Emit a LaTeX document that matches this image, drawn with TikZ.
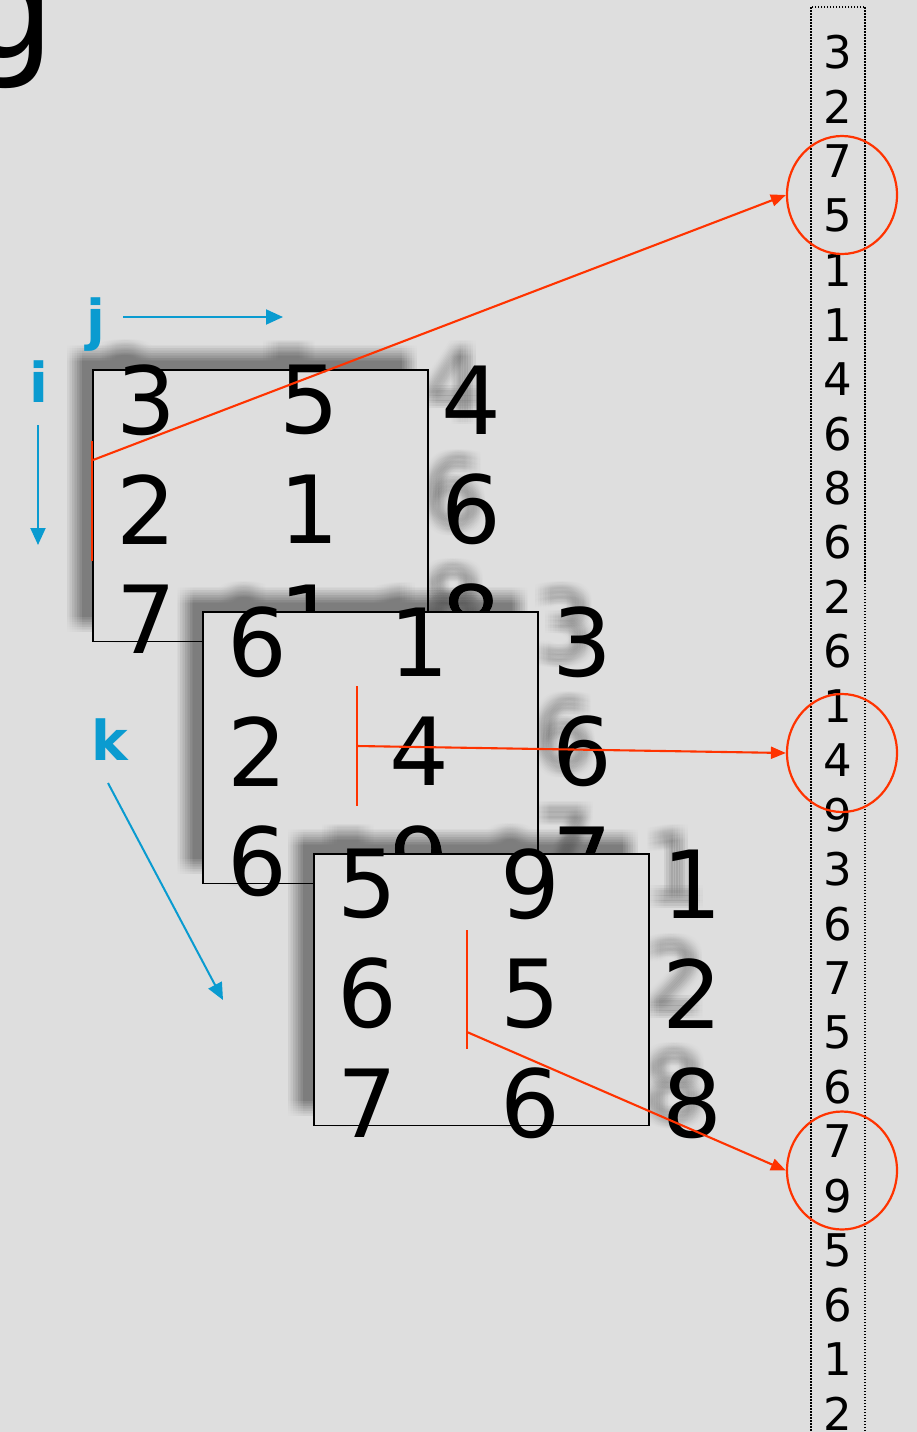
\documentclass[tikz,border=0pt]{standalone}
\usepackage{fontspec}
\setmainfont{DejaVu Sans}
\usetikzlibrary{arrows.meta,shapes.geometric}
\definecolor{bg}{HTML}{DEDEDE}
\definecolor{redc}{HTML}{FF3300}
\definecolor{bluec}{HTML}{0A9BD0}
\tikzset{
  big/.style={font=\fontsize{94}{94}\selectfont, inner sep=0pt, outer sep=0pt, anchor=center},
  listnum/.style={font=\fontsize{45}{45}\selectfont, inner sep=0pt, anchor=center},
  boxst/.style={draw=black, line width=1.9, fill=bg, minimum width=335, minimum height=271.5, inner sep=0pt, outer sep=0pt},
  redmark/.style={draw=redc, line width=2.2},
  redarrow/.style={draw=redc, line width=2.1, -{Triangle[length=15,width=12]}},
  redring/.style={draw=redc, line width=2.2, ellipse, minimum width=110, minimum height=118, inner sep=0pt},
  bluearrow/.style={draw=bluec, line width=2, -{Triangle[length=17,width=15]}},
  bluelabel/.style={text=bluec, font=\fontsize{55}{55}\selectfont\bfseries, inner sep=0pt, anchor=base},
}
\newcommand\drawmat[4]{%
  \foreach \dx in {-7.5,-5,-2.5,0,2.5,5,7.5}{\foreach \dy in {-7.5,-5,-2.5,0,2.5,5,7.5}{
    \begin{scope}[transparency group, opacity=0.0095, shift={(\dx-18,\dy-17)}]
      \fill[black] (#2,#3) rectangle ++(335,271.5);
      \foreach \d [count=\n from 0] in {#4}{
        \pgfmathtruncatemacro\cc{mod(\n,3)}\pgfmathtruncatemacro\rr{\n/3}
        \node[big] at ({#2+54+162.5*\cc},{#3+30+109.5*\rr}) {\d};
      }
    \end{scope}}}
  \node[boxst, anchor=north west] (box#1) at (#2,#3) {};
  \foreach \d [count=\n from 0] in {#4}{
    \pgfmathtruncatemacro\cc{mod(\n,3)}\pgfmathtruncatemacro\rr{\n/3}
    \node[big] (m#1-\n) at ({#2+54+162.5*\cc},{#3+30+109.5*\rr}) {\d};
  }
}
\begin{document}
\begin{tikzpicture}[x=1pt,y=-1pt]
\fill[bg] (0,0) rectangle (917,1432);
\useasboundingbox (0,0) rectangle (917,1432);
\clip (0,0) rectangle (917,1432);

% partial title letter
\node[font=\fontsize{145}{145}\selectfont, inner sep=0pt, anchor=base west] (g) at (-37,58) {g};

% matrices
\drawmat{1}{92.7}{370}{3,5,4,2,1,6,7,1,8}
\drawmat{2}{203.2}{612}{6,1,3,2,4,6,6,9,7}
\drawmat{3}{313.7}{854}{5,9,1,6,5,2,7,6,8}

% list column
\draw[line width=1.5, dash pattern=on 1.5pt off 1.5pt] (811,7) rectangle (865,1460);
\foreach \d [count=\n from 0] in {3,2,7,5,1,1,4,6,8,6,2,6,1,4,9,3,6,7,5,6,7,9,5,6,1,2}{
  \node[listnum] (L\n) at (837.5,{52.5+54.45*\n}) {\d};
}

% rings
\node[redring] (c1) at (842,195) {};
\node[redring] (c2) at (842,753) {};
\node[redring] (c3) at (842,1170.5) {};

% red markers and arrows
\coordinate (r1a) at (92,441); \coordinate (r1b) at (92,561); \coordinate (s1) at (93,460);
\coordinate (r2a) at (357,686); \coordinate (r2b) at (357,806); \coordinate (s2) at (357,746);
\coordinate (r3a) at (467,930); \coordinate (r3b) at (467,1049); \coordinate (s3) at (467,1032);
\draw[redmark] (r1a) -- (r1b);
\draw[redmark] (r2a) -- (r2b);
\draw[redmark] (r3a) -- (r3b);
\draw[redarrow] (s1) -- (c1.west);
\draw[redarrow] (s2) -- (c2.west);
\draw[redarrow] (s3) -- (c3.west);

% axis labels
\node[bluelabel] (lj) at (96,339) {j};
\node[bluelabel] (li) at (38.5,402) {i};
\node[bluelabel] (lk) at (110,760) {k};
\coordinate (ja) at (123,317); \coordinate (jb) at (283,317);
\coordinate (ia) at (38,425); \coordinate (ib) at (38,545);
\coordinate (ka) at (108,783); \coordinate (kb) at (223,1000);
\draw[bluearrow] (ja) -- (jb);
\draw[bluearrow] (ia) -- (ib);
\draw[bluearrow] (ka) -- (kb);
\end{tikzpicture}
\end{document}
